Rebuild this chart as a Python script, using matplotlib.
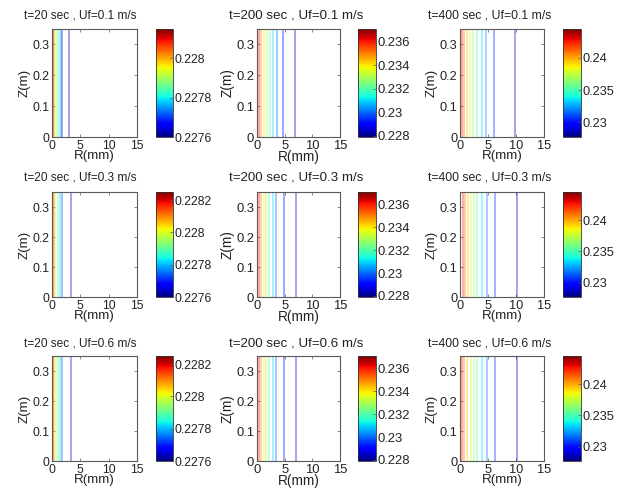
import numpy as np
import matplotlib.pyplot as plt
from matplotlib import colors, cm

plt.rcParams['font.family'] = ['Liberation Sans', 'DejaVu Sans']

times = [20, 200, 400]          # s, one per column
speeds = [0.1, 0.3, 0.6]        # m/s, one per row

# radius (mm) where each contour level sits, and the level itself
r_20_01 = [0.1, 0.3, 0.6, 0.9, 1.2, 1.5, 1.8, 3.0]
v_20_01 = [0.22810, 0.22801, 0.22794, 0.22788, 0.22781, 0.22774, 0.22768, 0.22763]
r_20_03 = [0.12, 0.35, 0.6, 1.0, 1.43, 1.8, 3.3]
v_20_03 = [0.22815, 0.22807, 0.22799, 0.22791, 0.22783, 0.22773, 0.22765]
r_20_06 = [0.15, 0.4, 0.7, 1.0, 1.4, 1.8, 3.4]
v_20_06 = [0.22815, 0.22807, 0.22799, 0.22791, 0.22783, 0.22773, 0.22765]

r_200_01 = [0.42, 0.79, 1.2, 1.8, 2.3, 2.85, 3.6, 4.7, 6.85]
v_200_01 = [0.236, 0.235, 0.234, 0.233, 0.232, 0.231, 0.230, 0.229, 0.2284]
r_200_03 = [0.35, 0.75, 1.2, 1.7, 2.2, 2.8, 3.5, 4.85, 7.0]
v_200_03 = [0.236, 0.235, 0.234, 0.233, 0.232, 0.231, 0.230, 0.229, 0.2284]
r_200_06 = [0.35, 0.75, 1.2, 1.7, 2.2, 2.8, 3.5, 4.9, 7.1]
v_200_06 = [0.236, 0.235, 0.234, 0.233, 0.232, 0.231, 0.230, 0.229, 0.2284]

r_400_01 = [0.42, 0.77, 1.25, 1.84, 2.37, 3.0, 3.85, 4.6, 6.1, 9.9]
v_400_01 = [0.2425, 0.241, 0.2395, 0.238, 0.2365, 0.235, 0.2335, 0.232, 0.2305, 0.229]
r_400_03 = [0.5, 0.9, 1.4, 2.0, 2.5, 3.1, 3.87, 4.86, 6.3, 10.1]
v_400_03 = [0.2425, 0.241, 0.2395, 0.238, 0.2365, 0.235, 0.2335, 0.232, 0.2305, 0.229]
r_400_06 = [0.42, 0.77, 1.25, 1.9, 2.5, 3.0, 3.85, 4.86, 6.2, 10.1]
v_400_06 = [0.2425, 0.241, 0.2395, 0.238, 0.2365, 0.235, 0.2335, 0.232, 0.2305, 0.229]

# colour limits (min at R=15 mm, max at the axis)
lim_20_01 = (0.2276, 0.22815)
lim_20 = (0.2276, 0.22825)
lim_200 = (0.2279, 0.2371)
lim_400 = (0.2277, 0.2445)

cb_ticks_20_01 = [0.2276, 0.2278, 0.228]
cb_ticks_20 = [0.2276, 0.2278, 0.228, 0.2282]
cb_ticks_200 = [0.228, 0.23, 0.232, 0.234, 0.236]
cb_ticks_400 = [0.23, 0.235, 0.24]

panels = [
    [(r_20_01, v_20_01, lim_20_01, cb_ticks_20_01),
     (r_200_01, v_200_01, lim_200, cb_ticks_200),
     (r_400_01, v_400_01, lim_400, cb_ticks_400)],
    [(r_20_03, v_20_03, lim_20, cb_ticks_20),
     (r_200_03, v_200_03, lim_200, cb_ticks_200),
     (r_400_03, v_400_03, lim_400, cb_ticks_400)],
    [(r_20_06, v_20_06, lim_20, cb_ticks_20),
     (r_200_06, v_200_06, lim_200, cb_ticks_200),
     (r_400_06, v_400_06, lim_400, cb_ticks_400)],
]

W, H = 627, 495

def box(x0, x1, y0, y1):
    return [x0 / W, 1 - y1 / H, (x1 - x0) / W, (y1 - y0) / H]

ax_x = [(52, 137), (257, 340), (460, 544)]
cb_x = [(156, 173), (358, 376), (563, 581)]
row_y = [(29, 137), (192, 297), (356, 461)]
title_x = [80, 296, 490]
title_y = [15, 178, 343]
title_fs = [8.6, 9.6, 8.8]
tick_fs = [8.8, 9.4, 9.2]
label_fs = [9.6, 9.8, 9.6]

R = np.linspace(0, 15, 401)
Z = np.linspace(0, 0.35, 40)
RR, ZZ = np.meshgrid(R, Z)

fig = plt.figure(figsize=(W / 100, H / 100), dpi=100)
frame = '#5a5a5a'
ink = '#222222'

for i in range(3):
    for j in range(3):
        r_lev, v_lev, (cmin, cmax), cticks = panels[i][j]
        r_nodes = [0.0] + list(r_lev) + [15.0]
        v_nodes = [cmax] + list(v_lev) + [cmin]
        T = np.interp(RR, r_nodes, v_nodes)

        norm = colors.Normalize(vmin=cmin, vmax=cmax)
        ax = fig.add_axes(box(ax_x[j][0], ax_x[j][1], row_y[i][0], row_y[i][1]))
        ax.contour(RR, ZZ, T, levels=sorted(v_lev), cmap='jet', norm=norm,
                   linewidths=1.2, alpha=0.42)
        ax.set_xlim(0, 15)
        ax.set_ylim(0, 0.35)
        ax.set_xticks([0, 5, 10, 15])
        ax.set_xticklabels(['0', '5', '10', '15'])
        ax.set_yticks([0, 0.1, 0.2, 0.3])
        ax.set_yticklabels(['0', '0.1', '0.2', '0.3'])
        ax.tick_params(direction='in', length=2.5, width=0.5, colors=frame,
                       labelcolor=ink, labelsize=tick_fs[j], pad=2,
                       top=True, right=True)
        for s in ax.spines.values():
            s.set_color(frame)
            s.set_linewidth(0.8)
        ax.set_xlabel('R(mm)', fontsize=label_fs[j], labelpad=-1, color=ink)
        ax.set_ylabel('Z(m)', fontsize=label_fs[j], labelpad=1, color=ink)
        fig.text(title_x[j] / W, 1 - title_y[i] / H,
                 f't={times[j]} sec , Uf={speeds[i]} m/s', color=ink,
                 fontsize=title_fs[j], ha='center', va='center')

        cax = fig.add_axes(box(cb_x[j][0], cb_x[j][1], row_y[i][0], row_y[i][1]))
        sm = cm.ScalarMappable(norm=norm, cmap='jet')
        cb = fig.colorbar(sm, cax=cax, ticks=cticks)
        cb.ax.set_yticklabels([f'{t:g}' for t in cticks])
        cb.ax.tick_params(direction='in', length=2, width=0.5, colors=frame,
                          labelcolor=ink, labelsize=tick_fs[j], pad=1)
        cb.outline.set_edgecolor('#333333')
        cb.outline.set_linewidth(0.6)

fig.savefig('out.png', dpi=100)
